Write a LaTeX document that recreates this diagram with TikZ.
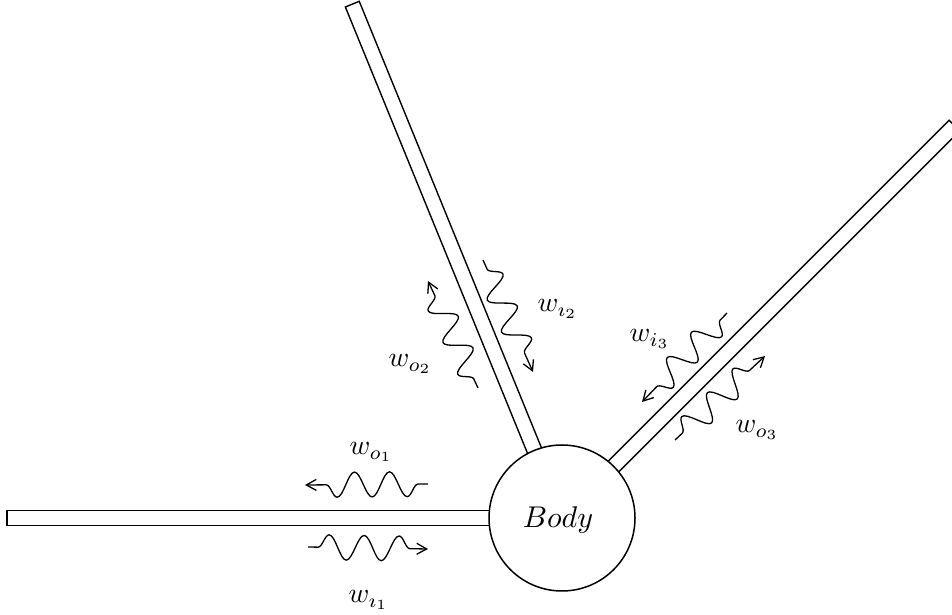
\documentclass[tikz,border=0pt]{standalone}
\usetikzlibrary{decorations.pathmorphing,arrows.meta}
\begin{document}
\begin{tikzpicture}[x=1pt,y=1pt,
  bar/.style={draw, line width=1.4pt},
  wave/.style={line width=1.3pt, -{Straight Barb[length=10pt,width=11pt,line width=1.3pt]}, decorate, decoration={snake, segment length=35pt, amplitude=12.5pt, pre length=10pt, post length=5pt}},
  lab/.style={anchor=base west, scale=2.8, inner sep=0pt}]
\useasboundingbox (0,0) rectangle (952,615);
\clip (0,0) rectangle (952,615);
\coordinate (c) at (562,97);
\foreach \a in {180,112.2,45} {
  \begin{scope}[shift={(c)},rotate=\a]
   \draw[bar] (0,-7.5) rectangle (555,7.5);
  \end{scope}
}
\node[circle,draw,fill=white,minimum size=146pt,inner sep=0pt,line width=1.5pt] (body) at (c) {};
\node[scale=3,inner sep=0pt] (bodytext) at (558,95) {$Body$};
% wave end points
\coordinate (o1s) at (428,131); \coordinate (o1e) at (305,130);
\coordinate (i1s) at (308,68);  \coordinate (i1e) at (428,66);
\coordinate (o2s) at (478,227); \coordinate (o2e) at (428,334);
\coordinate (i2s) at (483,355); \coordinate (i2e) at (533,243);
\coordinate (i3s) at (727,302); \coordinate (i3e) at (642,213);
\coordinate (o3s) at (675,175); \coordinate (o3e) at (765,259);
\draw[wave] (o1s) -- (o1e);
\draw[wave] (i1s) -- (i1e);
\draw[wave] (o2s) -- (o2e);
\draw[wave] (i2s) -- (i2e);
\draw[wave] (i3s) -- (i3e);
\draw[wave] (o3s) -- (o3e);
% labels
\node[lab] (lo1) at (349,160) {$w_{o_1}$};
\node[lab] (li1) at (348,12) {$w_{\imath_1}$};
\node[lab] (lo2) at (388,248) {$w_{o_2}$};
\node[lab] (li2) at (537,303) {$w_{\imath_2}$};
\node[lab] (li3) at (629,273) {$w_{i_3}$};
\node[lab] (lo3) at (735,182) {$w_{o_3}$};
\end{tikzpicture}
\end{document}
